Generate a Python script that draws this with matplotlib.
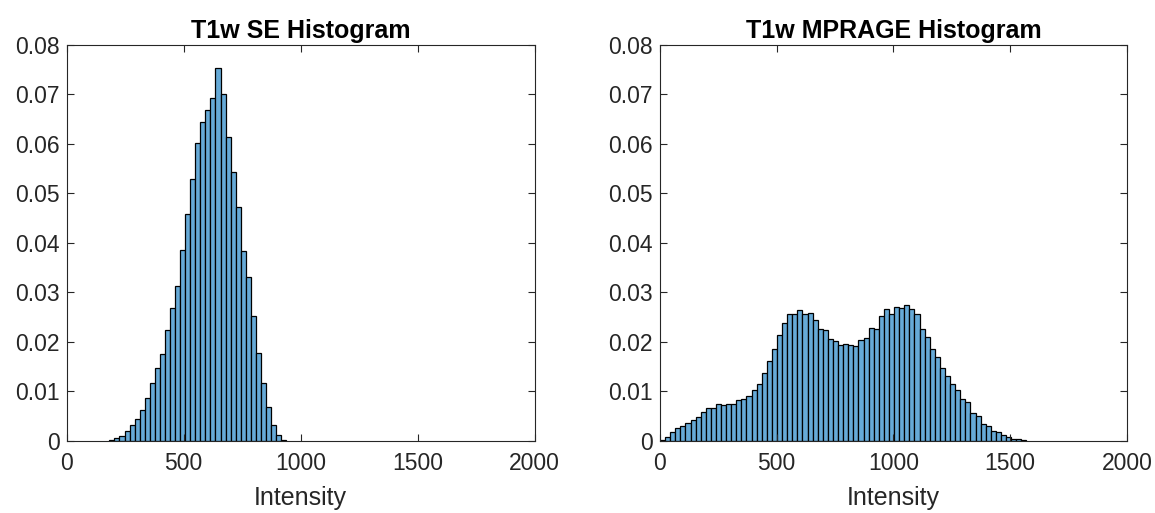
import numpy as np
import matplotlib
matplotlib.use('Agg')
import matplotlib.pyplot as plt

# bin layout (intensity units)
se_start = 183.0
se_width = 21.6
mp_start = 0.0
mp_width = 21.8

# probabilities per bin, T1w SE
se_vals = [0.0002, 0.0005, 0.0009, 0.0019, 0.0032, 0.0044, 0.0062, 0.0085,
           0.0116, 0.0146, 0.0175, 0.0224, 0.0269, 0.0312, 0.0386, 0.0458,
           0.0529, 0.0602, 0.0645, 0.0669, 0.0692, 0.0753, 0.0700, 0.0613,
           0.0544, 0.0473, 0.0383, 0.0330, 0.0251, 0.0177, 0.0117, 0.0067,
           0.0032, 0.0012, 0.0002]

# probabilities per bin, T1w MPRAGE
mp_vals = [0.0002, 0.0008, 0.0018, 0.0026, 0.0030, 0.0035, 0.0042, 0.0048,
           0.0058, 0.0066, 0.0066, 0.0073, 0.0071, 0.0073, 0.0073, 0.0081,
           0.0084, 0.0091, 0.0102, 0.0114, 0.0137, 0.0161, 0.0186, 0.0214,
           0.0238, 0.0255, 0.0255, 0.0264, 0.0256, 0.0257, 0.0244, 0.0226,
           0.0224, 0.0206, 0.0201, 0.0193, 0.0196, 0.0194, 0.0191, 0.0203,
           0.0208, 0.0228, 0.0226, 0.0252, 0.0266, 0.0255, 0.0270, 0.0268,
           0.0275, 0.0265, 0.0255, 0.0226, 0.0210, 0.0185, 0.0168, 0.0147,
           0.0131, 0.0114, 0.0102, 0.0084, 0.0078, 0.0055, 0.0050, 0.0033,
           0.0030, 0.0020, 0.0017, 0.0011, 0.0008, 0.0004, 0.0003, 0.0002]

titles = ['T1w SE Histogram', 'T1w MPRAGE Histogram']
xticks = [0, 500, 1000, 1500, 2000]
yticks = [0, 0.01, 0.02, 0.03, 0.04, 0.05, 0.06, 0.07, 0.08]
ytick_labels = ['0', '0.01', '0.02', '0.03', '0.04', '0.05', '0.06', '0.07', '0.08']

plt.rcParams['font.family'] = ['Liberation Sans', 'DejaVu Sans']
axcol = '#262626'

fig = plt.figure(figsize=(11.55, 5.13), dpi=100)
ax1 = fig.add_axes([0.0576, 0.1413, 0.4052, 0.771])
ax2 = fig.add_axes([0.5714, 0.1413, 0.4043, 0.771])

data = [(se_start, se_width, se_vals), (mp_start, mp_width, mp_vals)]

for ax, (start, w, vals), title in zip([ax1, ax2], data, titles):
    vals = np.array(vals)
    edges = start + w * np.arange(len(vals))
    ax.bar(edges, vals, width=w, align='edge', color='#66aad7',
           edgecolor='black', linewidth=0.9)
    ax.set_xlim(0, 2000)
    ax.set_ylim(0, 0.08)
    ax.set_xticks(xticks)
    ax.set_yticks(yticks)
    ax.set_yticklabels(ytick_labels)
    ax.tick_params(direction='in', top=True, right=True, length=5,
                   width=0.8, colors=axcol, labelsize=16.5)
    ax.tick_params(axis='x', pad=8)
    ax.tick_params(axis='y', pad=5)
    for s in ax.spines.values():
        s.set_color(axcol)
        s.set_linewidth(0.8)
    ax.set_xlabel('Intensity', fontsize=18, color=axcol, labelpad=8)
    ax.set_title(title, fontsize=18, fontweight='bold', color='black', pad=5)

fig.savefig('out.png', dpi=100)
